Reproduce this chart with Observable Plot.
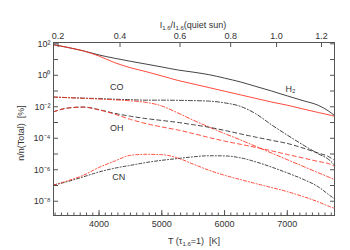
<!DOCTYPE html>
<html><head><meta charset="utf-8">
<script src="https://cdn.jsdelivr.net/npm/d3@7"></script>
<script src="https://cdn.jsdelivr.net/npm/@observablehq/plot@0.6"></script>
<style>body{margin:0;background:#fff;} #chart svg{display:block}</style>
</head><body><div id="chart"></div>
<script>
// Temperature grid T(tau_1.6=1) [K]
const temps = [3274, 3500, 3750, 4000, 4250, 4500, 4750, 5000, 5250, 5500, 5750, 6000, 6250, 6500, 6750, 7000, 7250, 7500, 7650, 7752];
// log10 of n/n(Total) [%]
const h2Black = [1.94, 1.77, 1.55, 1.29, 1.08, 0.89, 0.71, 0.53, 0.34, 0.20, 0.04, -0.18, -0.42, -0.71, -1.00, -1.31, -1.61, -1.92, -2.25, -2.56];
const h2Red   = [1.94, 1.77, 1.55, 1.22, 0.80, 0.48, 0.23, -0.04, -0.32, -0.55, -0.78, -1.01, -1.24, -1.47, -1.70, -1.90, -2.14, -2.37, -2.50, -2.60];
const coBlack = [-1.38, -1.42, -1.45, -1.48, -1.52, -1.55, -1.58, -1.58, -1.59, -1.61, -1.64, -1.75, -1.97, -2.45, -3.15, -3.80, -4.42, -5.00, -5.32, -5.70];
const coRed   = [-1.38, -1.42, -1.46, -1.51, -1.56, -1.62, -1.72, -1.95, -2.38, -2.85, -3.28, -3.70, -4.10, -4.52, -4.94, -5.36, -5.78, -6.20, -6.45, -6.62];
const ohBlack = [-2.32, -2.08, -2.02, -2.18, -2.42, -2.60, -2.75, -2.87, -2.99, -3.14, -3.30, -3.50, -3.72, -3.93, -4.13, -4.33, -4.62, -4.95, -5.15, -5.40];
const ohRed   = [-2.32, -2.08, -2.02, -2.20, -2.47, -2.80, -3.07, -3.28, -3.47, -3.70, -3.95, -4.18, -4.38, -4.58, -4.80, -5.03, -5.25, -5.48, -5.60, -5.78];
const cnBlack = [-6.97, -6.75, -6.45, -6.14, -5.90, -5.72, -5.54, -5.40, -5.29, -5.18, -5.11, -5.12, -5.24, -5.50, -5.83, -6.20, -6.60, -7.10, -7.55, -7.85];
const cnRed   = [-6.97, -6.70, -6.35, -5.85, -5.45, -5.08, -5.02, -5.04, -5.25, -5.64, -6.03, -6.35, -6.62, -6.88, -7.13, -7.39, -7.70, -8.05, -8.30, -8.45];

// Axis ticks
const xMajorTicks = [4000, 5000, 6000, 7000];
const xMinorTicks = d3.range(3300, 7800, 100);
const yDecades = [-8, -7, -6, -5, -4, -3, -2, -1, 0, 1, 2];
const yLabelledDecades = [-8, -6, -4, -2, 0, 2];
const topTickLabels = ["0.2", "0.4", "0.6", "0.8", "1.0", "1.2"];
const topTickTemps = [3347, 4334, 5290, 6097, 6829, 7545];

// In-plot labels
const labelNames = ["CO", "OH", "CN", "H₂"];
const labelTemps = [4283, 4283, 4314, 7052];
const labelLogs = [-0.78, -3.38, -6.48, -0.85];

const BLACK = "#222", RED = "#ff2a1a";
const series = [
  {vals: h2Black, color: BLACK, dash: null},
  {vals: h2Red, color: RED, dash: null},
  {vals: coBlack, color: BLACK, dash: "4,2,1,2"},
  {vals: coRed, color: RED, dash: "4,2,1,2"},
  {vals: ohBlack, color: BLACK, dash: "4,3"},
  {vals: ohRed, color: RED, dash: "4,3"},
  {vals: cnBlack, color: BLACK, dash: "3,2,1,2"},
  {vals: cnRed, color: RED, dash: "3,2,1,2"}
];

const sup = {"-": "⁻", "0": "⁰", "1": "¹", "2": "²", "3": "³", "4": "⁴", "5": "⁵", "6": "⁶", "7": "⁷", "8": "⁸", "9": "⁹"};
const fmtPow = e => "10" + String(e).split("").map(c => sup[c]).join("");
const topMap = new Map(topTickTemps.map((t, i) => [t, topTickLabels[i]]));

const lineMarks = series.map(s => Plot.line(temps.map((t, i) => ({t, v: Math.pow(10, s.vals[i])})), {
  x: "t", y: "v", stroke: s.color, strokeWidth: 0.85, strokeDasharray: s.dash, curve: "monotone-x"
}));

const labels = labelNames.map((n, i) => ({n, t: labelTemps[i], v: Math.pow(10, labelLogs[i])}));

const chart = Plot.plot({
  width: 350, height: 250,
  marginLeft: 53, marginRight: 16, marginTop: 42, marginBottom: 35,
  style: {fontFamily: "'Liberation Sans', Arial, sans-serif", fontSize: "9px", color: "#333", background: "#fff"},
  x: {domain: [3274, 7752]},
  y: {type: "log", domain: [Math.pow(10, -8.905), Math.pow(10, 2.082)]},
  marks: [
    ...lineMarks,
    Plot.text(labels, {x: "t", y: "v", text: "n", fill: "#333", fontSize: 9}),
    Plot.axisX({anchor: "bottom", ticks: xMinorTicks, tickSize: -2.5, tickFormat: () => "", label: null, stroke: "#555"}),
    Plot.axisX({anchor: "bottom", ticks: xMajorTicks, tickSize: -5, tickPadding: 10, tickFormat: d => String(d), label: null, stroke: "#555"}),
    Plot.axisX({anchor: "top", ticks: topTickTemps, tickSize: -4, tickPadding: 8, tickFormat: d => topMap.get(d), label: null, stroke: "#555"}),
    Plot.axisY({anchor: "left", ticks: yDecades.map(e => Math.pow(10, e)), tickSize: -5, tickPadding: 8,
      tickFormat: d => { const e = Math.round(Math.log10(d)); return yLabelledDecades.includes(e) ? fmtPow(e) : ""; }, label: null, stroke: "#555"}),
    Plot.axisY({anchor: "right", ticks: yDecades.map(e => Math.pow(10, e)), tickSize: -5, tickFormat: () => "", label: null, stroke: "#555"}),
    Plot.frame({stroke: "#555", strokeWidth: 1})
  ]
});
document.getElementById("chart").appendChild(chart);

// Axis titles with subscripts
const svgSel = d3.select(chart);
const titles = svgSel.append("g").attr("fill", "#333").attr("font-size", 9).attr("font-family", "'Liberation Sans', Arial, sans-serif");
const bottomTitle = titles.append("text").attr("x", 194).attr("y", 244).attr("text-anchor", "middle");
bottomTitle.append("tspan").text("T (τ");
bottomTitle.append("tspan").attr("font-size", 6).attr("dy", 2).text("1.6");
bottomTitle.append("tspan").attr("dy", -2).text("=1)  [K]");
const topTitle = titles.append("text").attr("x", 193).attr("y", 28).attr("text-anchor", "middle");
topTitle.append("tspan").text("I");
topTitle.append("tspan").attr("font-size", 6).attr("dy", 2).text("1.6");
topTitle.append("tspan").attr("dy", -2).text("/I");
topTitle.append("tspan").attr("font-size", 6).attr("dy", 2).text("1.6");
topTitle.append("tspan").attr("dy", -2).text("(quiet sun)");
titles.append("text").attr("transform", "translate(24,133) rotate(-90)").attr("text-anchor", "middle").text("n/n(Total)  [%]");
</script></body></html>
